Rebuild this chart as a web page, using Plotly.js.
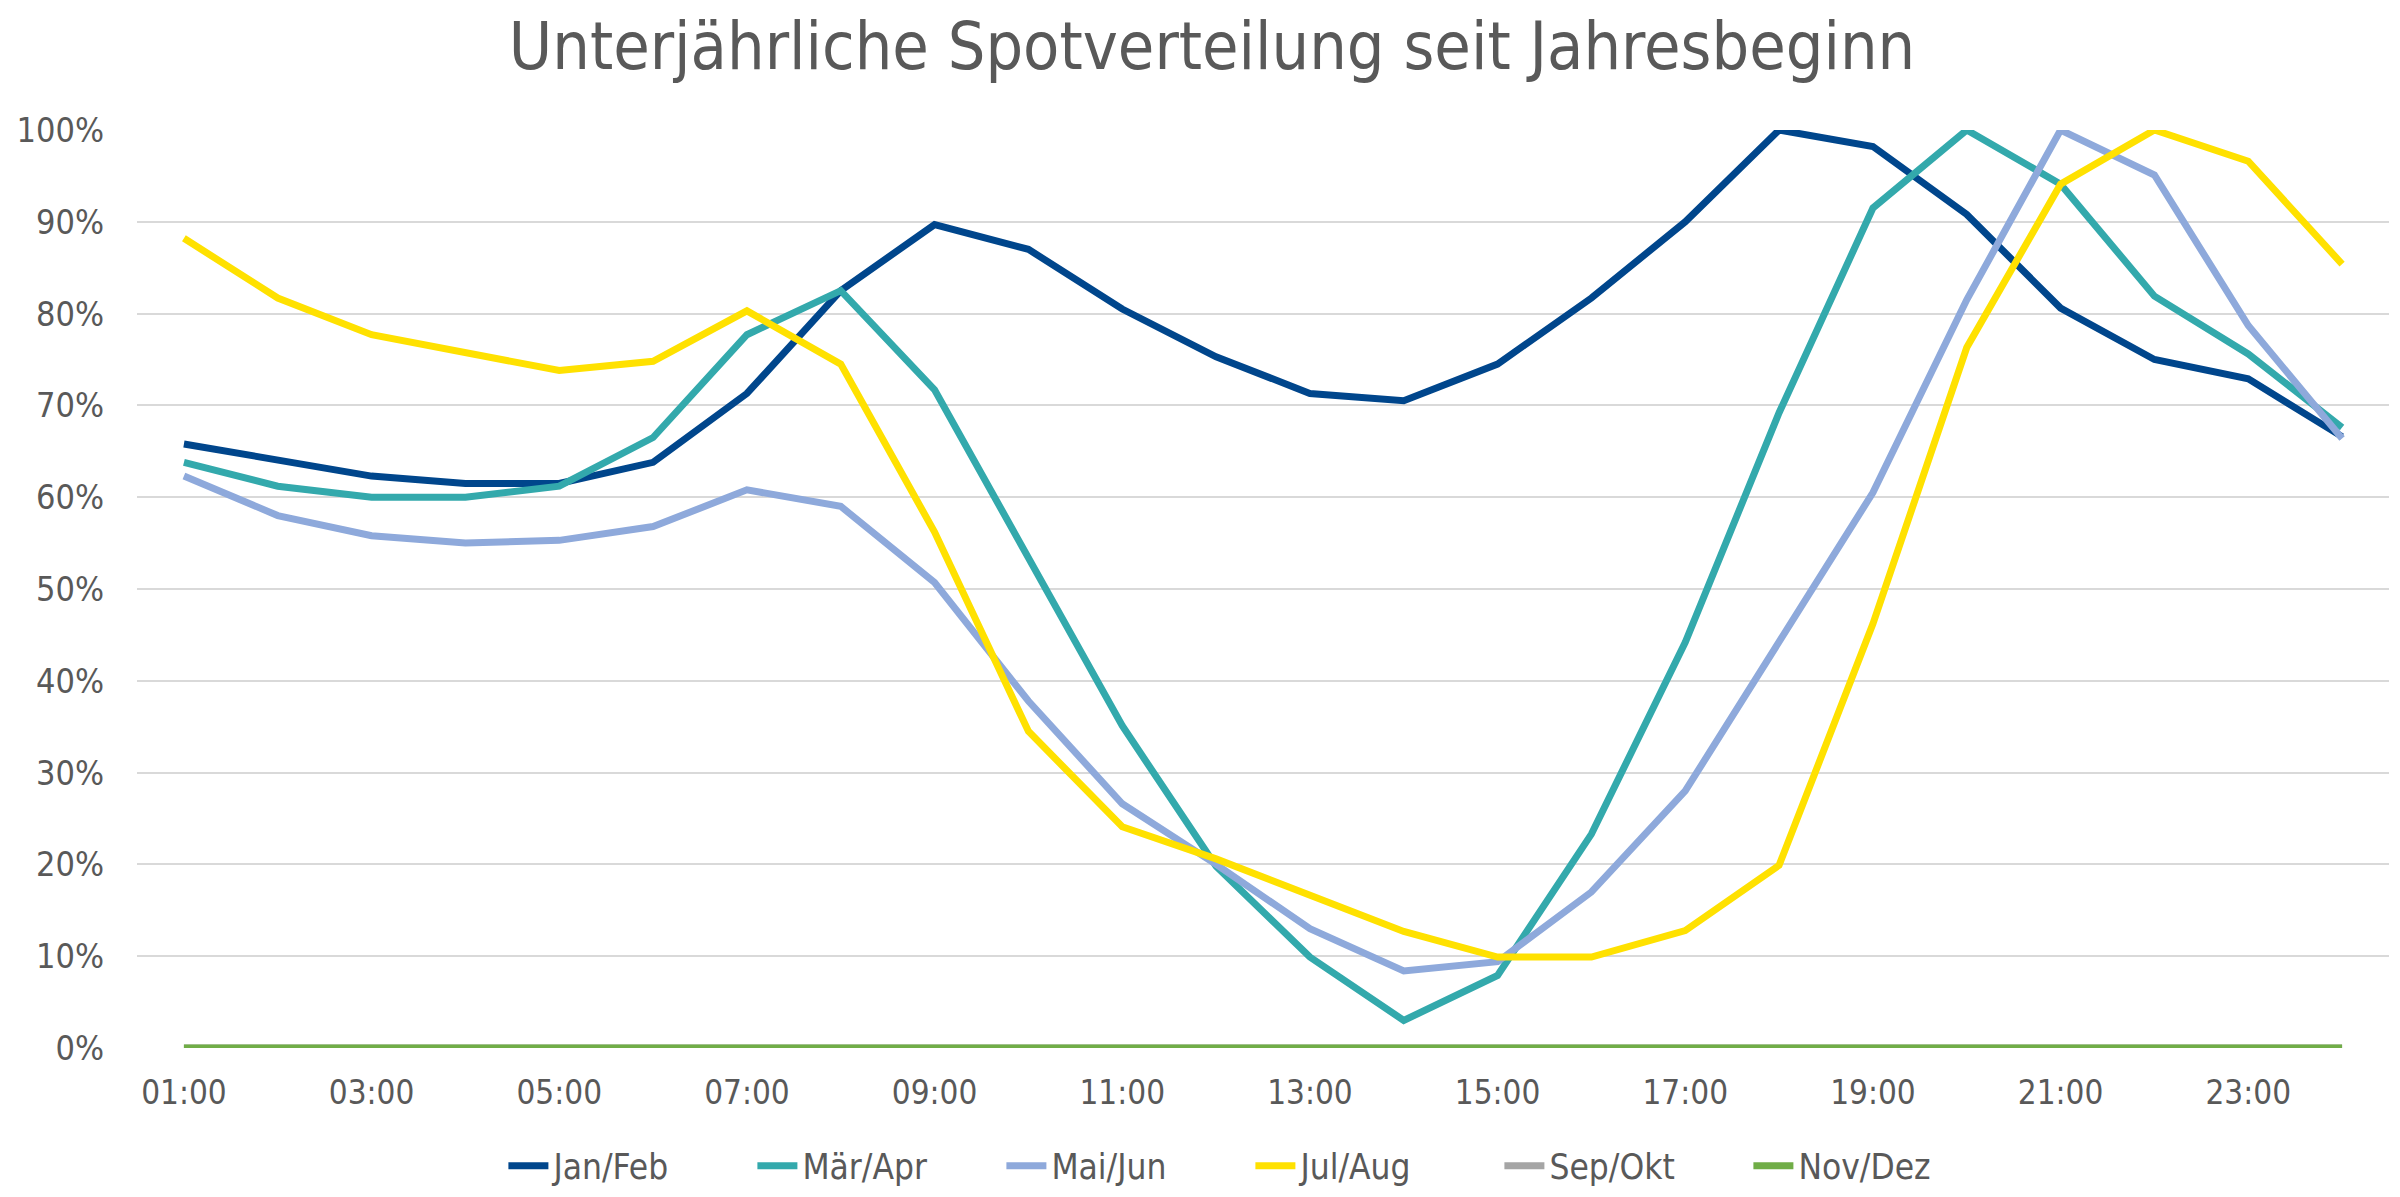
<!DOCTYPE html>
<html>
<head>
<meta charset="utf-8">
<script src="https://cdn.plot.ly/plotly-3.0.1.min.js"></script>
<style>
html,body{margin:0;padding:0;background:#fff;}
#chart{width:2400px;height:1197px;}
</style>
</head>
<body>
<div id="chart"></div>
<script>
const hours = ["01:00","02:00","03:00","04:00","05:00","06:00","07:00","08:00","09:00","10:00","11:00","12:00",
               "13:00","14:00","15:00","16:00","17:00","18:00","19:00","20:00","21:00","22:00","23:00","24:00"];
const tickLabels = ["01:00","03:00","05:00","07:00","09:00","11:00","13:00","15:00","17:00","19:00","21:00","23:00"];
const yTicks = [0,10,20,30,40,50,60,70,80,90,100];

const janFeb = [65.8,64.0,62.3,61.5,61.5,63.8,71.3,82.5,89.7,87.0,80.5,75.3,71.3,70.5,74.5,81.7,90.0,100,98.2,90.8,80.6,75.0,72.9,66.6];
const maerApr = [63.8,61.2,60.0,60.0,61.2,66.5,77.7,82.5,71.7,53.5,35.1,19.8,9.9,3.0,7.9,23.3,44.2,69.2,91.5,100,94.1,81.9,75.6,67.6];
const maiJun = [62.3,58.0,55.8,55.0,55.3,56.8,60.8,59.0,50.7,37.8,26.6,20.0,13.0,8.4,9.4,17.0,28.0,44.2,60.5,81.5,100,95.1,78.7,66.4];
const julAug = [88.2,81.7,77.7,75.8,73.8,74.8,80.3,74.5,56.2,34.5,24.1,20.6,16.7,12.7,9.9,9.9,12.8,19.9,46.2,76.3,94.1,100,96.6,85.4];
const sepOkt = [0,0,0,0,0,0,0,0,0,0,0,0,0,0,0,0,0,0,0,0,0,0,0,0];
const novDez = [0,0,0,0,0,0,0,0,0,0,0,0,0,0,0,0,0,0,0,0,0,0,0,0];

const seriesNames = ["Jan/Feb","Mär/Apr","Mai/Jun","Jul/Aug","Sep/Okt","Nov/Dez"];
const seriesColors = ["#00468C","#33A9AC","#8EA9DB","#FFE100","#A5A5A5","#70AD47"];
const seriesData = [janFeb, maerApr, maiJun, julAug, sepOkt, novDez];

const FONT = "'DejaVu Sans Condensed', 'DejaVu Sans', sans-serif";

const traces = seriesData.map((vals, i) => ({
  type: "scatter",
  mode: "lines",
  name: seriesNames[i],
  x: hours,
  y: vals,
  line: {color: seriesColors[i], width: 7},
  hoverinfo: "skip"
}));

const layout = {
  width: 2400,
  height: 1197,
  paper_bgcolor: "#ffffff",
  plot_bgcolor: "#ffffff",
  margin: {l: 137, r: 11, t: 130, b: 149, autoexpand: false},
  title: {
    text: "Unterjährliche Spotverteilung seit Jahresbeginn",
    font: {family: FONT, size: 66, color: "#595959"},
    xref: "container", x: 0.505, xanchor: "center",
    yref: "container", y: 0.962, yanchor: "middle"
  },
  xaxis: {
    type: "category",
    categoryarray: hours,
    range: [-0.5, 23.5],
    tickmode: "array",
    tickvals: tickLabels,
    ticktext: tickLabels,
    showgrid: false,
    zeroline: false,
    showline: false,
    automargin: false,
    ticks: "",
    ticklabelstandoff: 22,
    tickfont: {family: FONT, size: 33, color: "#595959"}
  },
  yaxis: {
    range: [0, 100],
    tickmode: "array",
    tickvals: yTicks,
    ticktext: yTicks.map(v => v + "%"),
    showgrid: true,
    gridcolor: "#D9D9D9",
    gridwidth: 2,
    zeroline: false,
    showline: false,
    automargin: false,
    ticks: "",
    ticklabelstandoff: 32,
    tickfont: {family: FONT, size: 34, color: "#595959"}
  },
  showlegend: true,
  legend: {
    orientation: "h",
    xref: "container", x: 0.521, xanchor: "center",
    yref: "container", y: 0.026, yanchor: "middle",
    font: {family: FONT, size: 35, color: "#595959"},
    itemwidth: 40,
    entrywidth: 194,
    entrywidthmode: "pixels",
    traceorder: "normal"
  }
};

Plotly.newPlot("chart", traces, layout, {displayModeBar: false, staticPlot: true});
</script>
</body>
</html>
